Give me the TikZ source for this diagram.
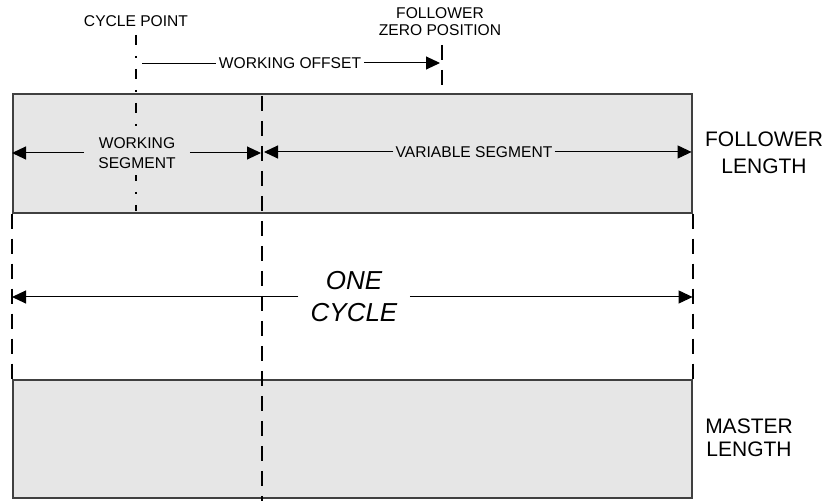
\documentclass[tikz,border=0pt]{standalone}
\usepackage{fontspec}
\setmainfont{Liberation Sans}
\usetikzlibrary{arrows.meta}
\definecolor{bandfillcolor}{HTML}{E6E6E6}
\definecolor{bandlinecolor}{HTML}{404040}

\begin{document}
\begin{tikzpicture}[
	x=0.5pt, y=-0.5pt,
	band/.style={fill=bandfillcolor, draw=bandlinecolor, line width=0.8pt,
		inner sep=0pt, anchor=north west, minimum width=339.5pt},
	marker/.style={line width=1.1pt, dash pattern=on 7.5pt off 5pt},
	cyclemark/.style={line width=1.1pt, dash pattern=on 5pt off 5.5pt on 1pt off 5.5pt},
	dim/.style={-{Triangle[length=7pt,width=6.5pt]}, line width=0.5pt},
	every node/.style={font=\fontsize{7.8}{10}\selectfont},
]
\useasboundingbox (0,0) rectangle (830,501);
% the two lengths
\node[band, minimum height=59.5pt] (flw) at (12,93) {};
\node[band, minimum height=59pt] (mst) at (12,379) {};
% vertical markers
\coordinate (cpt) at (136,35);
\coordinate (cpb) at (136,211);
\coordinate (spt) at (262,96);
\coordinate (spb) at (262,501);
\coordinate (fzt) at (442,45);
\coordinate (fzb) at (442,85);
\draw[cyclemark] (cpt) -- (cpb);
\draw[marker] (spt) -- (spb);
\draw[marker] (fzt) -- (fzb);
\draw[marker] (flw.south west) -- (mst.north west);
\draw[marker] (flw.south east) -- (mst.north east);
% labels on top
\node (cpl) at (136,21) {CYCLE POINT};
\node[align=center, font=\fontsize{7.8}{8.5}\selectfont] (fzl) at (440,22)
	{FOLLOWER\\ZERO POSITION};
% working offset
\node[fill=white, inner xsep=1.5pt] (wo) at (290,63) {WORKING OFFSET};
\draw ([xshift=3pt]cpt |- wo.west) -- (wo.west);
\draw[dim, shorten >=1pt] (wo.east) -- (wo.east -| fzt);
% segments
\node[align=center, fill=bandfillcolor, inner xsep=7pt] (ws) at (137,153)
	{WORKING\\SEGMENT};
\draw[dim] (ws.west) -- (ws.west -| flw.west);
\draw[dim, shorten >=0.5pt] (ws.east) -- (ws.east -| spt);
\node[fill=bandfillcolor, inner xsep=1pt] (vs) at (474,152) {VARIABLE SEGMENT};
\draw[dim, shorten >=1pt] (vs.west) -- (vs.west -| spt);
\draw[dim, shorten >=0.5pt] (vs.east) -- (vs.east -| flw.east);
% one cycle
\node[align=center, font=\fontsize{13}{16}\selectfont\itshape, inner xsep=6pt]
	(oc) at (354,297) {ONE\\CYCLE};
\draw[dim] (oc.west) -- (oc.west -| flw.west);
\draw[dim] (oc.east) -- (oc.east -| flw.east);
% side labels
\node[align=center, font=\fontsize{10.5}{13.5}\selectfont] (fll) at (764,153)
	{FOLLOWER\\LENGTH};
\node[align=center, font=\fontsize{10.5}{11.5}\selectfont] (mll) at (749,438)
	{MASTER\\LENGTH};
\end{tikzpicture}
\end{document}
